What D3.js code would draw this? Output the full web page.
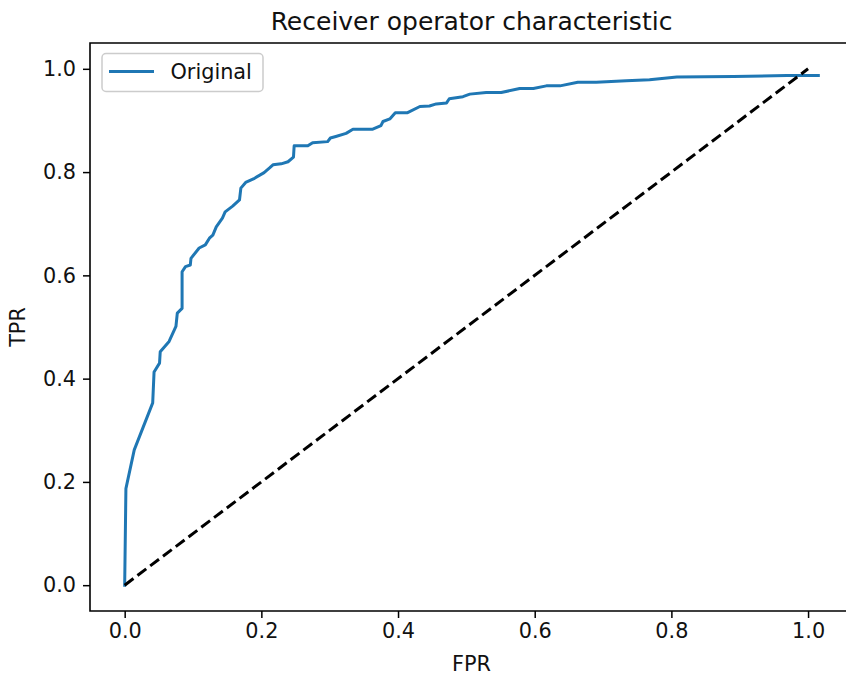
<!DOCTYPE html>
<html>
<head>
<meta charset="utf-8">
<script src="https://cdn.jsdelivr.net/npm/d3@7"></script>
<style>
  html, body { margin: 0; padding: 0; background: #fff; }
  svg { display: block; font-family: "DejaVu Sans", sans-serif; }
</style>
</head>
<body>
<svg id="chart" width="846" height="676"></svg>
<script>
// ROC curve points (false positive rate vs. true positive rate)
const fpr = [0, 0.0018, 0.014, 0.041, 0.043, 0.051, 0.052, 0.065, 0.075, 0.077, 0.084, 0.084,
  0.089, 0.096, 0.097, 0.109, 0.118, 0.124, 0.129, 0.134, 0.143, 0.147, 0.158, 0.168, 0.170,
  0.177, 0.190, 0.204, 0.212, 0.217, 0.229, 0.239, 0.247, 0.248, 0.268, 0.275, 0.297, 0.301,
  0.309, 0.324, 0.334, 0.363, 0.375, 0.378, 0.388, 0.396, 0.414, 0.432, 0.446, 0.456, 0.471,
  0.475, 0.495, 0.505, 0.529, 0.551, 0.578, 0.598, 0.617, 0.637, 0.663, 0.690, 0.734, 0.768,
  0.808, 0.891, 0.969, 1.015];
const tpr = [0, 0.187, 0.262, 0.353, 0.413, 0.430, 0.452, 0.472, 0.501, 0.527, 0.536, 0.607,
  0.617, 0.620, 0.633, 0.653, 0.659, 0.672, 0.678, 0.694, 0.711, 0.723, 0.734, 0.746, 0.769,
  0.780, 0.788, 0.799, 0.808, 0.814, 0.816, 0.820, 0.829, 0.851, 0.851, 0.857, 0.859, 0.866,
  0.869, 0.875, 0.883, 0.883, 0.890, 0.898, 0.903, 0.915, 0.915, 0.927, 0.928, 0.932, 0.934,
  0.942, 0.946, 0.951, 0.954, 0.954, 0.962, 0.962, 0.967, 0.967, 0.974, 0.974, 0.977, 0.979,
  0.984, 0.985, 0.987, 0.987];
// Chance diagonal
const chanceX = [0, 1];
const chanceY = [0, 1];
const xTicks = [0, 0.2, 0.4, 0.6, 0.8, 1.0];
const yTicks = [0, 0.2, 0.4, 0.6, 0.8, 1.0];
const seriesName = "Original";

const svg = d3.select("#chart");
const plotLeft = 90, plotRight = 853, plotTop = 43, plotBottom = 611;
const font = 20.8;
const ink = "#111";

// Axis limits padded by 5% of the data span
const xMin = 0, xMax = d3.max(fpr);
const xPad = (xMax - xMin) * 0.05;
const x = d3.scaleLinear().domain([xMin - xPad, xMax + xPad]).range([plotLeft, plotRight]);
const y = d3.scaleLinear().domain([-0.05, 1.05]).range([plotBottom, plotTop]);

const roc = fpr.map((v, i) => [v, tpr[i]]);
const chance = chanceX.map((v, i) => [v, chanceY[i]]);
const line = d3.line().x(d => x(d[0])).y(d => y(d[1]));

svg.append("path").datum(roc)
  .attr("d", line).attr("fill", "none")
  .attr("stroke", "#1f77b4").attr("stroke-width", 3)
  .attr("stroke-linejoin", "round").attr("stroke-linecap", "square");

svg.append("path").datum(chance)
  .attr("d", line).attr("fill", "none")
  .attr("stroke", "#000").attr("stroke-width", 3)
  .attr("stroke-dasharray", "11,5");

// Axes
const xAxis = d3.axisBottom(x).tickValues(xTicks).tickFormat(d3.format(".1f"))
  .tickSize(7).tickPadding(5);
const yAxis = d3.axisLeft(y).tickValues(yTicks).tickFormat(d3.format(".1f"))
  .tickSize(7).tickPadding(7);

const gx = svg.append("g").attr("transform", `translate(0,${plotBottom})`).call(xAxis);
const gy = svg.append("g").attr("transform", `translate(${plotLeft},0)`).call(yAxis);
[gx, gy].forEach(g => {
  g.select(".domain").remove();
  g.selectAll(".tick line").attr("stroke", "#000").attr("stroke-width", 1.5);
  g.selectAll(".tick text").attr("font-size", font).attr("fill", ink)
    .attr("font-family", "DejaVu Sans");
});

// Spines
const spine = svg.append("g").attr("stroke", "#000").attr("stroke-width", 1.6).attr("fill", "none");
spine.append("path").attr("d", `M${plotLeft},${plotTop}V${plotBottom}H${plotRight}V${plotTop}Z`);

// Title and axis labels
svg.append("text").attr("x", (plotLeft + plotRight) / 2).attr("y", 30)
  .attr("text-anchor", "middle").attr("font-size", 25).attr("fill", ink)
  .text("Receiver operator characteristic");
svg.append("text").attr("x", (plotLeft + plotRight) / 2).attr("y", 671)
  .attr("text-anchor", "middle").attr("font-size", font).attr("fill", ink)
  .text("FPR");
svg.append("text").attr("transform", `translate(25,${(plotTop + plotBottom) / 2}) rotate(-90)`)
  .attr("text-anchor", "middle").attr("font-size", font).attr("fill", ink)
  .text("TPR");

// Legend
const lg = svg.append("g");
lg.append("rect").attr("x", 102).attr("y", 53.5).attr("width", 161).attr("height", 38)
  .attr("rx", 4).attr("fill", "#fff").attr("fill-opacity", 0.8)
  .attr("stroke", "#cccccc").attr("stroke-width", 1.5);
lg.append("line").attr("x1", 109).attr("x2", 154).attr("y1", 71.5).attr("y2", 71.5)
  .attr("stroke", "#1f77b4").attr("stroke-width", 3);
lg.append("text").attr("x", 170.5).attr("y", 79.3).attr("font-size", font).attr("fill", ink)
  .text(seriesName);
</script>
</body>
</html>
